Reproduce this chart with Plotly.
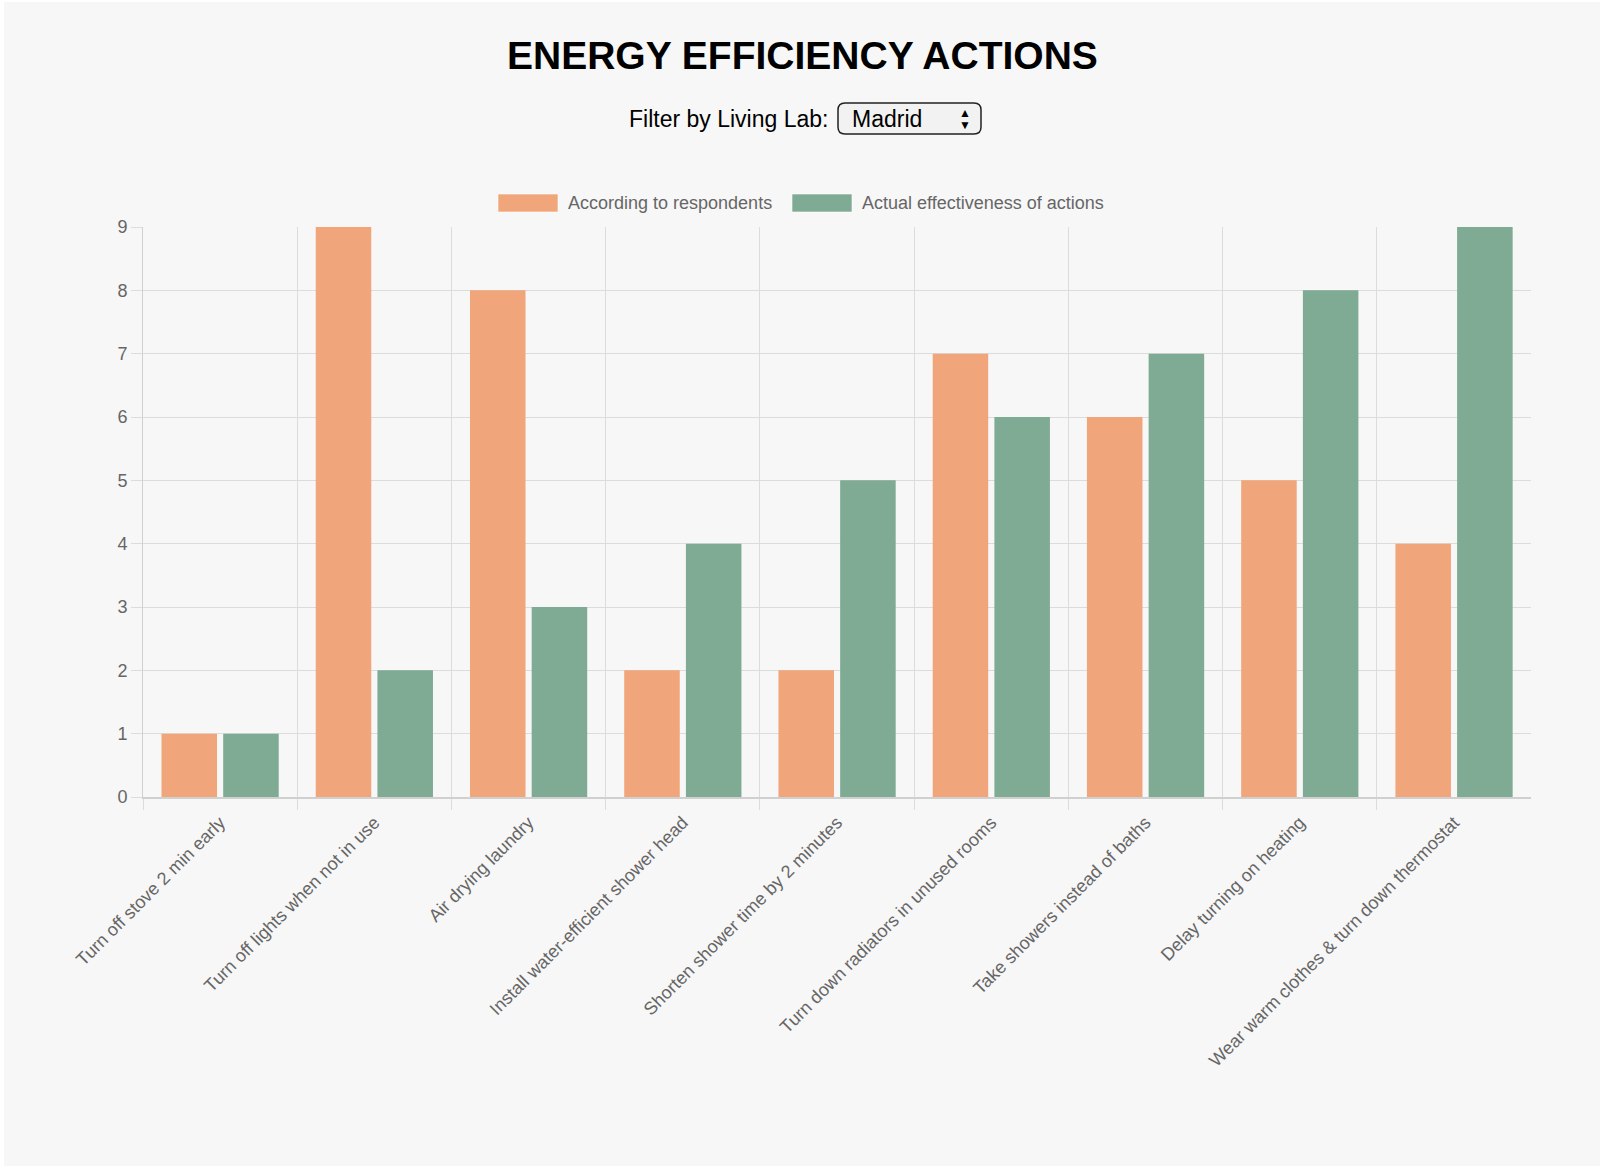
import plotly.graph_objects as go

# ---------------- data ----------------
categories = [
    "Turn off stove 2 min early",
    "Turn off lights when not in use",
    "Air drying laundry",
    "Install water-efficient shower head",
    "Shorten shower time by 2 minutes",
    "Turn down radiators in unused rooms",
    "Take showers instead of baths",
    "Delay turning on heating",
    "Wear warm clothes & turn down thermostat",
]
respondents = [1, 9, 8, 2, 2, 7, 6, 5, 4]
actual = [1, 2, 3, 4, 5, 6, 7, 8, 9]
series_names = ["According to respondents", "Actual effectiveness of actions"]
y_ticks = [0, 1, 2, 3, 4, 5, 6, 7, 8, 9]
living_lab = "Madrid"

# ---------------- style ----------------
W, H = 1600, 1173
ML, MR, MT, MB = 143, 69, 227, 376
ORANGE = "rgb(240,165,122)"
GREEN = "rgb(127,170,147)"
GRID = "#dcdcdc"
TXT = "#666666"
FONT = "Helvetica Neue, Helvetica, Arial, Liberation Sans, sans-serif"

PW = W - ML - MR
PH = H - MT - MB


def px(x):
    return (x - ML) / PW


def py(y):
    return (H - MB - y) / PH


fig = go.Figure()
fig.add_trace(go.Bar(x=categories, y=respondents, name=series_names[0],
                     marker=dict(color=ORANGE, line=dict(width=0)), showlegend=False))
fig.add_trace(go.Bar(x=categories, y=actual, name=series_names[1],
                     marker=dict(color=GREEN, line=dict(width=0)), showlegend=False))

shapes = []
annotations = []

# page panel
shapes.append(dict(type="rect", xref="paper", yref="paper", layer="below",
                   x0=px(4), x1=px(1600), y0=py(1166), y1=py(2),
                   fillcolor="#f7f7f7", line=dict(width=0)))

# title
annotations.append(dict(text="<b>ENERGY EFFICIENCY ACTIONS</b>", xref="paper", yref="paper",
                        x=px(802), y=py(56), xanchor="center", yanchor="middle",
                        showarrow=False, font=dict(family=FONT, size=39, color="#000000")))

# filter label
annotations.append(dict(text="Filter by Living Lab:", xref="paper", yref="paper",
                        x=px(830), y=py(119), xanchor="right", yanchor="middle",
                        showarrow=False, font=dict(family=FONT, size=23, color="#000000")))


def rounded_rect(x0, y0, x1, y1, r):
    rx = r / PW
    ry = r / PH
    X0, X1 = px(x0), px(x1)
    Y0, Y1 = py(y1), py(y0)
    return (f"M {X0+rx},{Y1} L {X1-rx},{Y1} Q {X1},{Y1} {X1},{Y1-ry} "
            f"L {X1},{Y0+ry} Q {X1},{Y0} {X1-rx},{Y0} L {X0+rx},{Y0} "
            f"Q {X0},{Y0} {X0},{Y0+ry} L {X0},{Y1-ry} Q {X0},{Y1} {X0+rx},{Y1} Z")


shapes.append(dict(type="path", xref="paper", yref="paper",
                   path=rounded_rect(838, 103, 981, 134, 7),
                   fillcolor="#f2f2f2", line=dict(color="#222222", width=1.5)))
annotations.append(dict(text=living_lab, xref="paper", yref="paper",
                        x=px(850), y=py(119), xanchor="left", yanchor="middle",
                        showarrow=False, font=dict(family=FONT, size=23, color="#000000")))
annotations.append(dict(text="▲", xref="paper", yref="paper",
                        x=px(965), y=py(113), xanchor="center", yanchor="middle",
                        showarrow=False, font=dict(family=FONT, size=12, color="#000000")))
annotations.append(dict(text="▼", xref="paper", yref="paper",
                        x=px(965), y=py(125), xanchor="center", yanchor="middle",
                        showarrow=False, font=dict(family=FONT, size=12, color="#000000")))

# custom legend
legend_items = [(series_names[0], ORANGE, 498), (series_names[1], GREEN, 792)]
for name, col, x0 in legend_items:
    shapes.append(dict(type="rect", xref="paper", yref="paper",
                       x0=px(x0), x1=px(x0 + 60), y0=py(212), y1=py(194),
                       fillcolor=col, line=dict(color="rgba(255,255,255,0.6)", width=1)))
    annotations.append(dict(text=name, xref="paper", yref="paper",
                            x=px(x0 + 68), y=py(203), xanchor="left", yanchor="middle",
                            showarrow=False, font=dict(family=FONT, size=18, color=TXT)))

fig.update_layout(
    width=W, height=H,
    margin=dict(l=ML, r=MR, t=MT, b=MB, pad=0),
    paper_bgcolor="#ffffff",
    plot_bgcolor="rgba(0,0,0,0)",
    barmode="group",
    bargap=0.2,
    bargroupgap=0.1,
    shapes=shapes,
    annotations=annotations,
    showlegend=False,
    font=dict(family=FONT, size=18, color=TXT),
)
fig.update_xaxes(
    type="category",
    range=[-0.5, 8.499],
    tickson="boundaries",
    tickangle=-45,
    ticks="outside", ticklen=11, tickcolor=GRID, tickwidth=1,
    ticklabelstandoff=6,
    showgrid=True, gridcolor=GRID, gridwidth=1,
    showline=True, linecolor="#d0d0d0", linewidth=2,
    tickfont=dict(family=FONT, size=18, color=TXT),
    fixedrange=True,
)
fig.update_yaxes(
    range=[0, 9],
    tickvals=y_ticks,
    ticks="outside", ticklen=11, tickcolor=GRID, tickwidth=1,
    showgrid=True, gridcolor=GRID, gridwidth=1,
    zeroline=False,
    showline=True, linecolor="#d0d0d0", linewidth=1,
    tickfont=dict(family=FONT, size=18, color=TXT),
    fixedrange=True,
)

fig.write_html("out.html", config={"displayModeBar": False})
